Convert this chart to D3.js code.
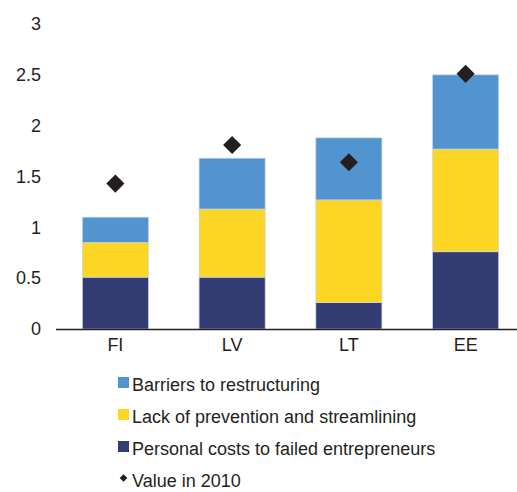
<!DOCTYPE html>
<html>
<head>
<meta charset="utf-8">
<script src="https://cdn.jsdelivr.net/npm/d3@7"></script>
<style>
  body { margin: 0; background: #fff; }
  text { font-family: "Liberation Sans", Arial, sans-serif; fill: #231f20; }
</style>
</head>
<body>
<svg id="chart" width="517" height="492"></svg>
<script>
const countries = ['FI', 'LV', 'LT', 'EE']
const personalCosts = [0.51, 0.51, 0.26, 0.76]
const lackOfPrevention = [0.34, 0.67, 1.01, 1.01]
const barriers = [0.25, 0.50, 0.61, 0.73]
const value2010 = [1.43, 1.81, 1.64, 2.51]
const yTicks = [0, 0.5, 1, 1.5, 2, 2.5, 3]

const seriesNames = [
  'Personal costs to failed entrepreneurs',
  'Lack of prevention and streamlining',
  'Barriers to restructuring',
]
const colors = ['#343c74', '#fdd525', '#5294cf']

const svg = d3.select('#chart')

const x = d3.scaleBand().domain(countries).range([57, 524]).paddingInner(0.434).paddingOuter(0.217)
const y = d3.scaleLinear().domain([0, 3]).range([329, 24])

// stack the three components
const rows = countries.map((c, i) => ({
  country: c,
  [seriesNames[0]]: personalCosts[i],
  [seriesNames[1]]: lackOfPrevention[i],
  [seriesNames[2]]: barriers[i],
}))
const stacked = d3.stack().keys(seriesNames)(rows)

svg.append('g')
  .selectAll('g')
  .data(stacked)
  .enter()
  .append('g')
  .attr('fill', (d, i) => colors[i])
  .selectAll('rect')
  .data(d => d)
  .enter()
  .append('rect')
  .attr('x', d => x(d.data.country))
  .attr('width', x.bandwidth())
  .attr('y', d => y(d[1]))
  .attr('height', d => y(d[0]) - y(d[1]))
  .attr('stroke', '#c9d6ea')
  .attr('stroke-width', 0.7)

// y axis labels only
const yAxis = svg.append('g')
  .attr('transform', 'translate(48,0)')
  .call(d3.axisLeft(y).tickValues(yTicks).tickSize(0).tickPadding(7).tickFormat(d3.format('')))
yAxis.select('.domain').remove()
yAxis.selectAll('text').attr('font-size', 18).style('font-family', '"Liberation Sans", Arial, sans-serif').attr('fill', '#231f20')

// x axis
const xAxis = svg.append('g')
  .attr('transform', `translate(0,${y(0)})`)
  .call(d3.axisBottom(x).tickSize(0).tickPadding(9))
xAxis.select('.domain').attr('d', `M56,0.5H517`).attr('stroke', '#231f20').attr('stroke-width', 1.3)
xAxis.selectAll('text').attr('font-size', 18).style('font-family', '"Liberation Sans", Arial, sans-serif').attr('fill', '#231f20')

// 2010 markers
svg.append('g')
  .selectAll('path')
  .data(value2010)
  .enter()
  .append('path')
  .attr('d', d3.symbol().type(d3.symbolSquare).size(165))
  .attr('transform', (d, i) => `translate(${x(countries[i]) + x.bandwidth() / 2},${y(d)}) rotate(45)`)
  .attr('fill', '#231f20')

// legend
const legendItems = [
  { name: seriesNames[2], color: colors[2], type: 'rect' },
  { name: seriesNames[1], color: colors[1], type: 'rect' },
  { name: seriesNames[0], color: colors[0], type: 'rect' },
  { name: 'Value in 2010', color: '#231f20', type: 'diamond' },
]
const legend = svg.append('g')
  .selectAll('g')
  .data(legendItems)
  .enter()
  .append('g')
  .attr('transform', (d, i) => `translate(118,${391 + i * 32})`)

legend.filter(d => d.type === 'rect')
  .append('rect')
  .attr('x', 0)
  .attr('y', -14)
  .attr('width', 11)
  .attr('height', 11)
  .attr('fill', d => d.color)

legend.filter(d => d.type === 'diamond')
  .append('path')
  .attr('d', d3.symbol().type(d3.symbolSquare).size(30))
  .attr('transform', 'translate(5.5,-9) rotate(45)')
  .attr('fill', d => d.color)

legend.append('text')
  .attr('x', 14)
  .attr('y', 0)
  .attr('font-size', 18)
  .text(d => d.name)
</script>
</body>
</html>
